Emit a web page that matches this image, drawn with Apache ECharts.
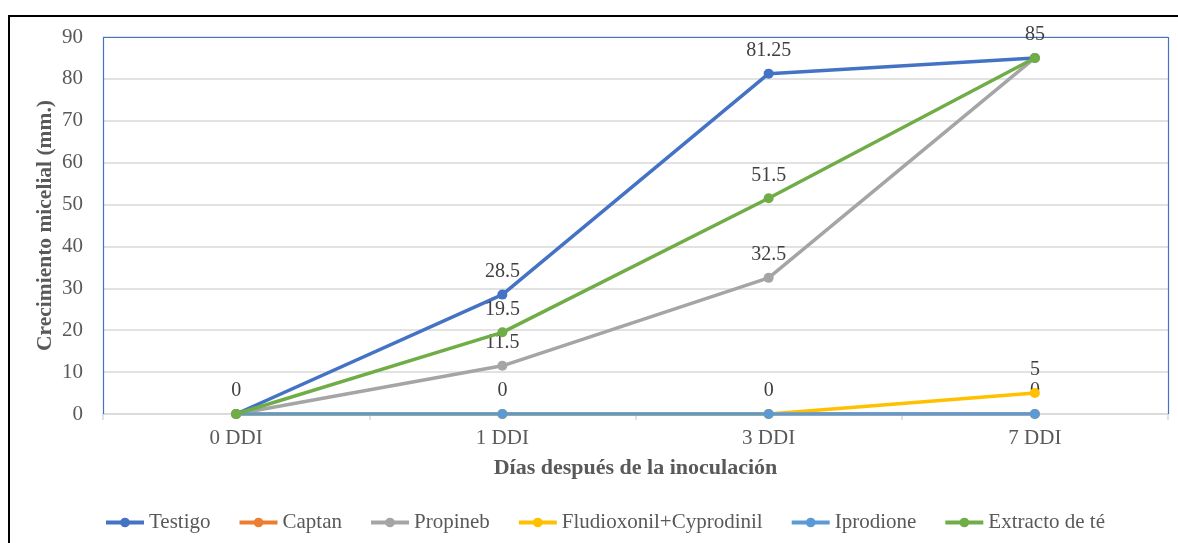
<!DOCTYPE html>
<html>
<head>
<meta charset="utf-8">
<script src="https://cdn.jsdelivr.net/npm/echarts@6/dist/echarts.min.js"></script>
<style>
  html, body { margin: 0; padding: 0; background: #fff; }
  #chart { width: 1178px; height: 543px; }
</style>
</head>
<body>
<div id="chart"></div>
<script>
// Days after inoculation
const categories = ['0 DDI', '1 DDI', '3 DDI', '7 DDI'];
const yTicks = [0, 10, 20, 30, 40, 50, 60, 70, 80, 90];

// Mycelial growth (mm) per treatment
const testigo = [0, 28.5, 81.25, 85];
const captan = [0, 0, 0, 0];
const propineb = [0, 11.5, 32.5, 85];
const fludioxonil = [0, 0, 0, 5];
const iprodione = [0, 0, 0, 0];
const extracto = [0, 19.5, 51.5, 85];

const seriesNames = ['Testigo', 'Captan', 'Propineb', 'Fludioxonil+Cyprodinil', 'Iprodione', 'Extracto de té'];
const seriesData = [testigo, captan, propineb, fludioxonil, iprodione, extracto];
const seriesColors = ['#4472C4', '#ED7D31', '#A5A5A5', '#FFC000', '#5B9BD5', '#70AD47'];

const FONT = '"Liberation Serif", "Times New Roman", serif';

// Label each distinct value once per category, so coincident points
// don't stack identical text on top of each other.
const seen = categories.map(() => new Set());
const showLabel = seriesData.map(values => values.map((v, j) => {
  if (seen[j].has(v)) return false;
  seen[j].add(v);
  return true;
}));

const chart = echarts.init(document.getElementById('chart'), null, { renderer: 'canvas' });

const L = 103, T = 37, R = 1168, B = 414;

chart.setOption({
  animation: false,
  backgroundColor: '#fff',
  textStyle: { fontFamily: FONT },
  graphic: [
    {
      // plot area frame (left, top, right)
      type: 'polyline',
      shape: { points: [[L + 0.5, B], [L + 0.5, T + 0.5], [R + 0.5, T + 0.5], [R + 0.5, B]] },
      style: { fill: null, stroke: '#4472C4', lineWidth: 1.2 },
      silent: true,
      z: 1
    },
    {
      // outer chart frame
      type: 'rect',
      shape: { x: 9, y: 16, width: 1300, height: 700 },
      style: { fill: 'none', stroke: '#000', lineWidth: 2 },
      silent: true,
      z: 100
    }
  ],
  grid: {
    left: L, right: 1178 - R, top: T, bottom: 543 - B,
    show: false
  },
  legend: {
    top: 507,
    left: 99,
    itemWidth: 38,
    itemHeight: 12,
    itemGap: 27,
    lineStyle: { width: 4 },
    textStyle: { fontFamily: FONT, fontSize: 21, color: '#595959' },
    data: seriesNames
  },
  xAxis: {
    type: 'category',
    data: categories,
    boundaryGap: true,
    name: 'Días después de la inoculación',
    nameLocation: 'middle',
    nameGap: 43,
    nameMoveOverlap: false,
    nameTextStyle: { fontFamily: FONT, fontSize: 22, fontWeight: 'bold', color: '#595959' },
    axisLine: { show: true, lineStyle: { color: '#D9D9D9', width: 1.5 } },
    axisTick: { show: true, length: 6, lineStyle: { color: '#D9D9D9', width: 1.5 } },
    axisLabel: { fontFamily: FONT, fontSize: 21, color: '#595959', margin: 14 }
  },
  yAxis: {
    type: 'value',
    min: yTicks[0],
    max: yTicks[yTicks.length - 1],
    interval: 10,
    name: 'Crecimiento micelial (mm.)',
    nameLocation: 'middle',
    nameGap: 47,
    nameMoveOverlap: false,
    nameTextStyle: { fontFamily: FONT, fontSize: 21.5, fontWeight: 'bold', color: '#595959' },
    axisLine: { show: false },
    axisTick: { show: false },
    axisLabel: { fontFamily: FONT, fontSize: 21, color: '#595959', margin: 20 },
    splitLine: { lineStyle: { color: '#D9D9D9', width: 1.5 } }
  },
  series: seriesNames.map((name, i) => ({
    name: name,
    type: 'line',
    data: seriesData[i].map((v, j) => ({
      value: v,
      label: { show: showLabel[i][j] }
    })),
    symbol: 'circle',
    symbolSize: 10,
    color: seriesColors[i],
    lineStyle: { width: 3.5, color: seriesColors[i] },
    itemStyle: { color: seriesColors[i] },
    z: 2 + i,
    label: {
      position: 'top',
      distance: 8,
      fontFamily: FONT,
      fontSize: 20,
      color: '#404040'
    }
  }))
});
</script>
</body>
</html>
